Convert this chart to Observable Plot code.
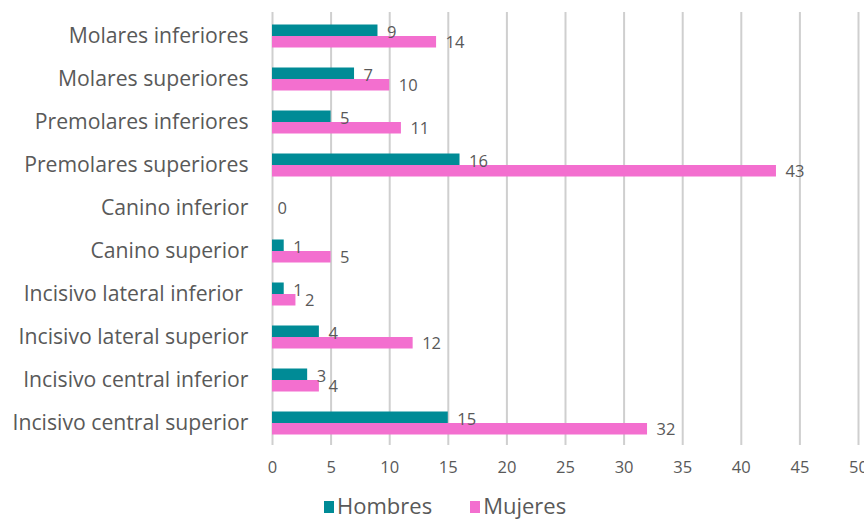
<!DOCTYPE html>
<html>
<head>
<meta charset="utf-8">
<script src="https://cdn.jsdelivr.net/npm/d3@7"></script>
<script src="https://cdn.jsdelivr.net/npm/@observablehq/plot@0.6"></script>
<style>
  html, body { margin: 0; padding: 0; background: #fff; }
  body { width: 864px; height: 520px; overflow: hidden; font-family: "Open Sans", Lato, sans-serif; }
  #legend { display: flex; align-items: center; height: 30px; line-height: 30px; margin-top: 9px; padding-left: 324px; font-size: 22px; color: #595959; }
  #legend .sw { display: inline-block; width: 10px; height: 12px; margin-right: 3px; margin-top: 4px; }
  #legend .item { display: flex; align-items: center; margin-right: 38px; }
</style>
</head>
<body>
<div id="chart"></div>
<div id="legend"></div>
<script>
const categories = [
  "Molares inferiores",
  "Molares superiores",
  "Premolares inferiores",
  "Premolares superiores",
  "Canino inferior",
  "Canino superior",
  "Incisivo lateral inferior\u00a0",
  "Incisivo lateral superior",
  "Incisivo central inferior",
  "Incisivo central superior"
];
const hombres = [9, 7, 5, 16, 0, 1, 1, 4, 3, 15];
const mujeres = [14, 10, 11, 43, 0, 5, 2, 12, 4, 32];
const series = ["Hombres", "Mujeres"];
const colors = ["#008b96", "#f36fcf"];
const xTicks = [0, 5, 10, 15, 20, 25, 30, 35, 40, 45, 50];

const rowsH = categories.map((c, i) => ({category: c, value: hombres[i]}));
const rowsM = categories.map((c, i) => ({category: c, value: mujeres[i]}));
const zeroRows = categories.map((c, i) => ({category: c, value: hombres[i] + mujeres[i]})).filter(d => d.value === 0);

const textColor = "#595959";
const chart = Plot.plot({
  width: 864,
  height: 481,
  marginLeft: 272,
  marginRight: 6,
  marginTop: 12,
  marginBottom: 36,
  style: {fontFamily: "'Open Sans', Lato, sans-serif", color: textColor, background: "#fff"},
  x: {domain: [0, 50], ticks: xTicks},
  y: {domain: categories, padding: 0},
  marks: [
    Plot.gridX(xTicks, {stroke: "#cfcfcf", strokeOpacity: 1, strokeWidth: 2}),
    Plot.barX(rowsH, {x: "value", y: "category", fill: colors[0], insetTop: 10.5, insetBottom: 21}),
    Plot.barX(rowsM, {x: "value", y: "category", fill: colors[1], insetTop: 22, insetBottom: 9.5}),
    Plot.text(rowsH.filter(d => d.value > 0), {x: "value", y: "category", text: d => String(d.value), dx: 9, dy: -3, textAnchor: "start", fill: textColor, fontSize: 16.5}),
    Plot.text(rowsM.filter(d => d.value > 0), {x: "value", y: "category", text: d => String(d.value), dx: 9, dy: 7, textAnchor: "start", fill: textColor, fontSize: 16.5}),
    Plot.text(zeroRows, {x: "value", y: "category", text: d => String(d.value), dx: 5, dy: 1, textAnchor: "start", fill: textColor, fontSize: 16.5}),
    Plot.axisX(xTicks, {tickSize: 0, tickPadding: 16, fontSize: 16.5, fill: textColor, label: null}),
    Plot.axisY({tickSize: 0, tickPadding: 24, fontSize: 21.2, fill: textColor, label: null})
  ]
});
document.getElementById("chart").appendChild(chart);

const legend = document.getElementById("legend");
series.forEach((s, i) => {
  const item = document.createElement("span");
  item.className = "item";
  const sw = document.createElement("span");
  sw.className = "sw";
  sw.style.background = colors[i];
  item.appendChild(sw);
  item.appendChild(document.createTextNode(s));
  legend.appendChild(item);
});
</script>
</body>
</html>
